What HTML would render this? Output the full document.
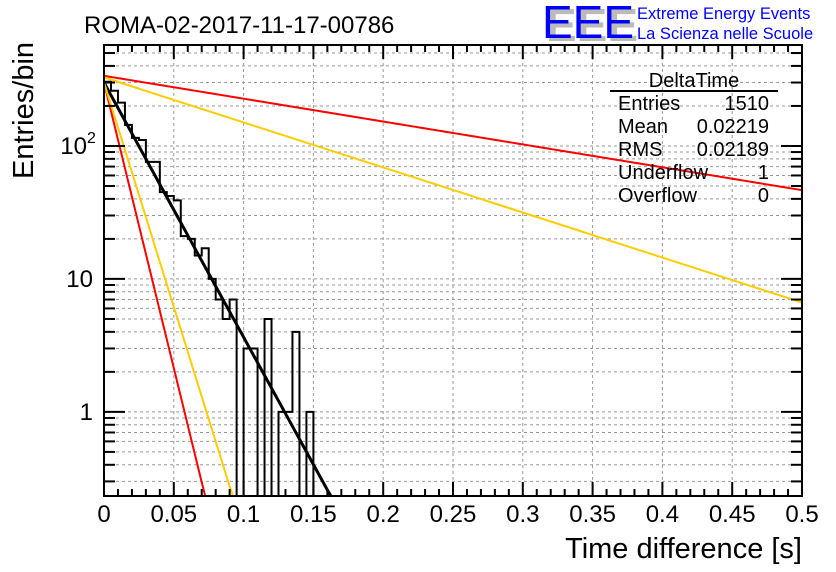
<!DOCTYPE html>
<html><head><meta charset="utf-8"><style>
html,body{margin:0;padding:0;background:#fff;}
svg{display:block;font-family:"Liberation Sans",sans-serif;}
</style></head><body>
<div style="position:relative;width:836px;height:572px;">
<svg id="c" width="836" height="572" viewBox="0 0 836 572" style="position:absolute;left:0;top:0;"></svg>
<svg width="836" height="572" style="position:absolute;left:0;top:0;pointer-events:none;">
<text x="84" y="33" font-size="24" fill="#000">ROMA-02-2017-11-17-00786</text>
<text x="546" y="41" font-size="46" fill="#bbb" font-weight="bold">EEE</text>
<text x="542" y="38" font-size="46" fill="#0000ff">EEE</text>
<text x="637" y="19" font-size="16.5" fill="#0000ff">Extreme Energy Events</text>
<text x="637" y="39" font-size="16.5" fill="#0000ff">La Scienza nelle Scuole</text>
<text transform="translate(33,179) rotate(-90)" font-size="29" fill="#000">Entries/bin</text>
<text x="802" y="558" text-anchor="end" font-size="29" fill="#000">Time difference [s]</text>
<g font-size="20" fill="#000">
<text x="694" y="87" text-anchor="middle">DeltaTime</text>
<line x1="610" x2="778" y1="91" y2="91" stroke="#000" stroke-width="2"/>
<g id="stats"></g>
</g>
</svg></div>
<script>
const binWidth = 0.005;
const binCounts = [304,260,212,144,115,111,76,76,45,42,39,21,20,15,17,10,7,5,7,0,3,3,0,5,0,1,1,4,0,1,0,0,0,0];
const fitAmplitudes = [300, 300, 300, 337, 328];
const fitSlopes = [44.1, 98.9, 77.7, 3.96, 7.8];
const fitColors = ["#000000","#ff0000","#ffcc00","#ff0000","#ffcc00"];
const fitNames = ["fit-line","fit-red-steep","fit-yellow-steep","fit-red-shallow","fit-yellow-shallow"];
const xTicks = [0,0.05,0.1,0.15,0.2,0.25,0.3,0.35,0.4,0.45,0.5];
const xTickLabels = ["0","0.05","0.1","0.15","0.2","0.25","0.3","0.35","0.4","0.45","0.5"];
const statsLabels = ["Entries","Mean","RMS","Underflow","Overflow"];
const statsValues = ["1510","0.02219","0.02189","1","0"];

const NS="http://www.w3.org/2000/svg";
const svg=document.getElementById('c');
const L=104,R=802,T=45,B=496;
const yMin=Math.log10(0.233), yMax=2+(146-45)/133;
function X(v){return L+(v-0)/0.5*(R-L);}
function Y(v){return B-(Math.log10(v)-yMin)/(yMax-yMin)*(B-T);}
function mk(tag,attrs,parent){const e=document.createElementNS(NS,tag);for(const k in attrs)e.setAttribute(k,attrs[k]);(parent||svg).appendChild(e);return e;}

const defs=mk('defs',{});
const cp=mk('clipPath',{id:'pc'},defs);
mk('rect',{x:L,y:T,width:R-L,height:B-T},cp);

const grid=mk('g',{stroke:'#999','stroke-dasharray':'3,3','stroke-width':1});


xTicks.forEach(t=>{if(t>0&&t<0.5){mk('line',{x1:X(t),x2:X(t),y1:T,y2:B},grid);}});
for(let d=-1;d<=2;d++){for(let m=1;m<10;m++){const v=m*Math.pow(10,d);const y=Y(v);if(y>T&&y<B)mk('line',{x1:L,x2:R,y1:y,y2:y},grid);}}

let pts=[];
let prevY=B;
binCounts.forEach((c,i)=>{const x0=X(i*binWidth),x1=X((i+1)*binWidth);const y=c>0?Math.min(Y(c),B):B;pts.push([x0,prevY]);pts.push([x0,y]);pts.push([x1,y]);prevY=y;});
pts.push([pts[pts.length-1][0],B]);
const hist=mk('polyline',{points:pts.map(p=>p.join(',')).join(' '),fill:'none',stroke:'#000','stroke-width':2,'clip-path':'url(#pc)'});



fitAmplitudes.forEach((a,i)=>{
  let p=[];
  for(let k=0;k<=200;k++){const x=0.5*k/200;let v=a*Math.exp(-fitSlopes[i]*x);if(v<0.233){p.push([X(x),B]);break;}p.push([X(x),Y(v)]);}
  const pl=mk('polyline',{points:p.map(q=>q.join(',')).join(' '),fill:'none',stroke:fitColors[i],'stroke-width':i==0?3:2,'clip-path':'url(#pc)'});
  
  
});

const fr=mk('rect',{x:L,y:T,width:R-L,height:B-T,fill:'none',stroke:'#000','stroke-width':2});



const xt=mk('g',{stroke:'#000','stroke-width':2});


for(let k=0;k<=50;k++){const x=X(k*0.01);const len=k%5==0?14:7;mk('line',{x1:x,x2:x,y1:B,y2:B-len},xt);mk('line',{x1:x,x2:x,y1:T,y2:T+len},xt);}
xTicks.forEach((t,i)=>{const tx=mk('text',{x:X(t),y:522,'text-anchor':'middle','font-size':24,fill:'#000'});tx.textContent=xTickLabels[i];

});

const yt=mk('g',{stroke:'#000','stroke-width':2});


for(let d=-1;d<=2;d++){for(let m=1;m<10;m++){const v=m*Math.pow(10,d);const y=Y(v);if(y>=T&&y<=B){const len=m==1?21:11;mk('line',{x1:L,x2:L+len,y1:y,y2:y},yt);mk('line',{x1:R,x2:R-len,y1:y,y2:y},yt);}}}
function ylab(txt,y,sup){const t=mk('text',{x:93,y:y+8,'text-anchor':'end','font-size':24,fill:'#000'});t.textContent=txt;


if(sup){t.setAttribute('x',87);const s=mk('text',{x:87,y:y-3,'font-size':16,fill:'#000'});s.textContent=sup;

}}
ylab('10',Y(100),'2');ylab('10',Y(10));ylab('1',Y(1));

const sg=document.getElementById('stats');
statsLabels.forEach((l,i)=>{
  const a=document.createElementNS(NS,'text');a.setAttribute('x',618);a.setAttribute('y',110+i*23);a.textContent=l;
  
  
  sg.appendChild(a);
  const b=document.createElementNS(NS,'text');b.setAttribute('x',769);b.setAttribute('y',110+i*23);b.setAttribute('text-anchor','end');b.textContent=statsValues[i];
  
  
  sg.appendChild(b);
});
</script>
</body></html>
